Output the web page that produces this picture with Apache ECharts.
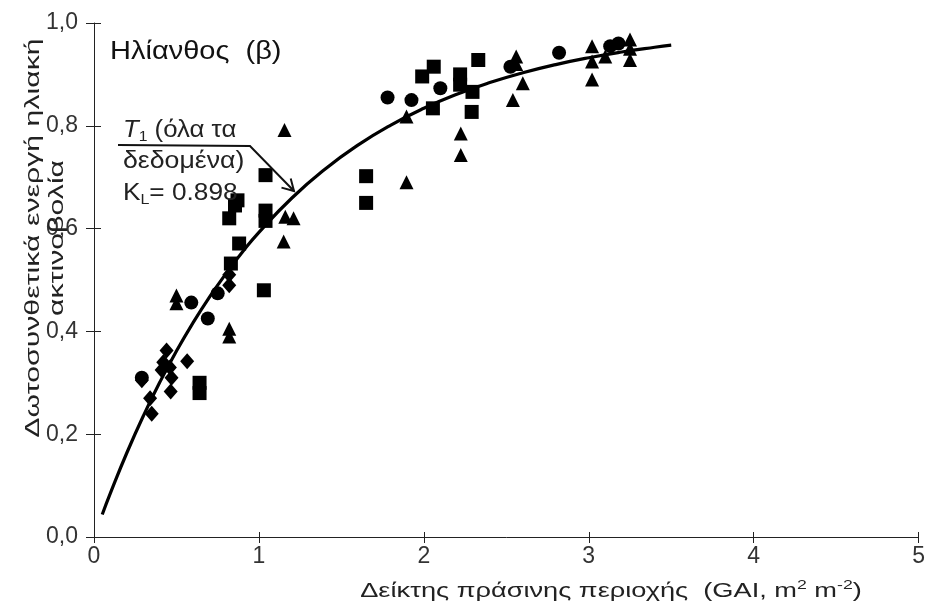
<!DOCTYPE html>
<html>
<head>
<meta charset="utf-8">
<script src="https://cdn.jsdelivr.net/npm/echarts@6/dist/echarts.min.js"></script>
<style>
  html, body { margin: 0; padding: 0; background: #fff; }
  #chart { width: 928px; height: 611px; }
</style>
</head>
<body>
<div id="chart"></div>
<script>
// Sunflower: fraction of intercepted PAR against green area index
const diamondGAI  = [0.29, 0.35, 0.34, 0.41, 0.44, 0.42, 0.46, 0.47, 0.465, 0.565, 0.82, 0.82];
const diamondFrac = [0.305, 0.24, 0.27, 0.325, 0.363, 0.34, 0.33, 0.31, 0.283, 0.342, 0.51, 0.49];

const circleGAI  = [0.29, 0.59, 0.69, 0.75, 1.78, 1.925, 2.10, 2.525, 2.82, 3.13, 3.18];
const circleFrac = [0.31, 0.456, 0.425, 0.474, 0.855, 0.85, 0.873, 0.915, 0.942, 0.955, 0.96];

const squareGAI  = [0.64, 0.64, 1.03, 1.04, 0.82, 0.87, 0.855, 1.04, 1.04, 0.88, 0.83, 1.65, 1.65,
                    1.99, 2.06, 2.055, 2.22, 2.22, 2.295, 2.33, 2.29];
const squareFrac = [0.30, 0.28, 0.48, 0.704, 0.62, 0.655, 0.645, 0.635, 0.615, 0.571, 0.532, 0.702, 0.65,
                    0.896, 0.915, 0.834, 0.90, 0.88, 0.866, 0.928, 0.827];

const triangleGAI  = [0.50, 0.50, 0.82, 0.82, 1.155, 1.16, 1.21, 1.15, 1.895, 1.895, 2.224, 2.224,
                      2.56, 2.56, 2.60, 2.54, 3.02, 3.02, 3.02, 3.10, 3.25, 3.25, 3.25];
const triangleFrac = [0.47, 0.455, 0.405, 0.39, 0.792, 0.623, 0.62, 0.575, 0.818, 0.69, 0.785, 0.743,
                      0.935, 0.92, 0.883, 0.85, 0.955, 0.925, 0.89, 0.935, 0.968, 0.95, 0.928];

// Light extinction model T1 fitted to all data: f = 1 - exp(-KL * GAI)
const KL = 0.898;
const curveGAI = [0.05, 0.1, 0.2, 0.3, 0.4, 0.5, 0.6, 0.7, 0.8, 0.9, 1.0, 1.2, 1.4, 1.6, 1.8,
                  2.0, 2.2, 2.4, 2.6, 2.8, 3.0, 3.2, 3.4, 3.5];

const xTicks = [0, 1, 2, 3, 4, 5];
const yTicks = [0.0, 0.2, 0.4, 0.6, 0.8, 1.0];

const FONT = '"Liberation Sans", Arial, sans-serif';
const INK = '#000';
const pairs = (xs, ys) => xs.map((x, i) => [x, ys[i]]);

const chart = echarts.init(document.getElementById('chart'), null, { renderer: 'canvas' });

const axisColor = '#222';
const baseX = {
  type: 'value', min: xTicks[0], max: xTicks[xTicks.length - 1], interval: 1,
  splitLine: { show: false },
  axisLine: { show: true, onZero: false, lineStyle: { color: axisColor, width: 1 } }
};
const baseY = {
  type: 'value', min: yTicks[0], max: yTicks[yTicks.length - 1], interval: 0.2,
  splitLine: { show: false },
  axisLine: { show: true, onZero: false, lineStyle: { color: axisColor, width: 1 } }
};

const dot = { color: INK, opacity: 1 };

const option = {
  backgroundColor: '#fff',
  animation: false,
  grid: { left: 94, right: 9, top: 23, bottom: 74, containLabel: false },
  xAxis: [
    Object.assign({}, baseX, {
      axisTick: { show: true, inside: false, length: 6, lineStyle: { color: axisColor } },
      axisLabel: { color: '#333', fontSize: 23, fontFamily: FONT, margin: 8 }
    }),
    Object.assign({}, baseX, {
      position: 'bottom',
      axisLine: { show: false },
      axisTick: { show: true, inside: true, length: 5, lineStyle: { color: axisColor } },
      axisLabel: { show: false }
    })
  ],
  yAxis: [
    Object.assign({}, baseY, {
      axisTick: { show: true, inside: false, length: 8, lineStyle: { color: axisColor } },
      axisLabel: {
        color: '#333', fontSize: 23, fontFamily: FONT, margin: 16,
        formatter: v => v.toFixed(1).replace('.', ',')
      }
    }),
    Object.assign({}, baseY, {
      position: 'left',
      axisLine: { show: false },
      axisTick: { show: true, inside: true, length: 7, lineStyle: { color: axisColor } },
      axisLabel: { show: false }
    })
  ],
  series: [
    {
      type: 'line', name: 'T1', data: curveGAI.map(g => [g, 1 - Math.exp(-KL * g)]),
      smooth: true, showSymbol: false, symbol: 'none',
      lineStyle: { color: INK, width: 3.2 }, z: 3
    },
    { type: 'scatter', data: pairs(diamondGAI, diamondFrac), symbol: 'diamond', symbolSize: [14, 16],
      itemStyle: dot },
    { type: 'scatter', data: pairs(circleGAI, circleFrac), symbol: 'circle', symbolSize: 14,
      itemStyle: dot },
    { type: 'scatter', data: pairs(squareGAI, squareFrac), symbol: 'rect', symbolSize: 14,
      itemStyle: dot },
    { type: 'scatter', data: pairs(triangleGAI, triangleFrac), symbol: 'triangle', symbolSize: [14, 14],
      itemStyle: dot }
  ],
  graphic: [
    // y-axis title, two lines rotated
    {
      type: 'text', x: 45, y: 238, rotation: Math.PI / 2, scaleX: 1.44, z: 100,
      style: {
        text: 'Δωτοσυνθετικά ενεργή ηλιακή\nακτινοβολία',
        fontSize: 21, fontFamily: FONT, fill: '#222', lineHeight: 24,
        align: 'center', verticalAlign: 'middle'
      }
    },
    // x-axis title
    {
      type: 'text', x: 611, y: 591, scaleX: 1.36, z: 100,
      style: {
        text: 'Δείκτης πράσινης περιοχής  (GAI, m{sup|2} m{sup|-2})',
        fontSize: 20, fontFamily: FONT, fill: '#222', align: 'center', verticalAlign: 'middle',
        rich: {
          base: { fontSize: 20, fontFamily: FONT, fill: '#222', lineHeight: 24 },
          sup: { fontSize: 13, fontFamily: FONT, fill: '#222', verticalAlign: 'top', lineHeight: 24 }
        }
      }
    },
    // panel title
    {
      type: 'text', x: 110, y: 52, scaleX: 1.16, z: 100,
      style: { text: 'Ηλίανθος  (β)', fontSize: 25, fontFamily: FONT, fill: '#111', verticalAlign: 'middle' }
    },
    // model annotation
    {
      type: 'text', x: 123, y: 131, scaleX: 1.12, z: 100,
      style: {
        text: '{it|T}{sub|1} (όλα τα', fontSize: 23, fontFamily: FONT, fill: '#222', verticalAlign: 'middle',
        rich: {
          it: { fontStyle: 'italic', fontSize: 23, fontFamily: FONT, fill: '#222', lineHeight: 26 },
          sub: { fontSize: 14, fontFamily: FONT, fill: '#222', verticalAlign: 'bottom', lineHeight: 26 }
        }
      }
    },
    {
      type: 'text', x: 123, y: 162, scaleX: 1.16, z: 100,
      style: { text: 'δεδομένα)', fontSize: 23, fontFamily: FONT, fill: '#222', verticalAlign: 'middle' }
    },
    {
      type: 'text', x: 123, y: 194, scaleX: 1.14, z: 100,
      style: {
        text: 'K{sub|L}= 0.898', fontSize: 23, fontFamily: FONT, fill: '#222', verticalAlign: 'middle',
        rich: { sub: { fontSize: 14, fontFamily: FONT, fill: '#222', verticalAlign: 'bottom', lineHeight: 26 } }
      }
    },
    {
      type: 'polyline', z: 100,
      shape: { points: [[118, 145], [250, 146], [294, 191]] },
      style: { stroke: '#111', lineWidth: 2, fill: null }
    },
    {
      type: 'polyline', z: 100,
      shape: { points: [[281.5, 187.6], [294, 191], [290.7, 178.5]] },
      style: { stroke: '#111', lineWidth: 2, fill: null }
    }
  ]
};

chart.setOption(option);
</script>
</body>
</html>
